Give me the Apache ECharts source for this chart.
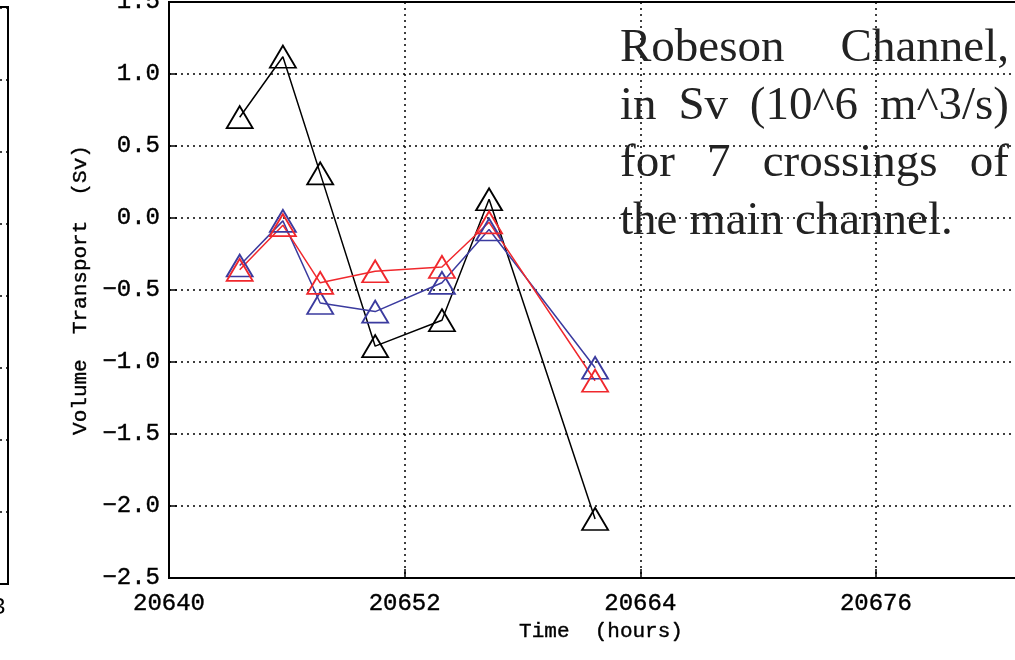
<!DOCTYPE html>
<html>
<head>
<meta charset="utf-8">
<script src="https://cdn.jsdelivr.net/npm/echarts@6/dist/echarts.min.js"></script>
<style>
html, body { margin: 0; padding: 0; background: #fff; }
#main { width: 1015px; height: 660px; }
</style>
</head>
<body>
<div id="main"></div>
<script>
// crossing times (hours) and transport per section (Sv)
var hours = [20643.6, 20645.8, 20647.7, 20650.5, 20653.9, 20656.3, 20661.7];
var totalSv = [0.70, 1.12, 0.31, -0.89, -0.71, 0.13, -2.09];
var blueSv = [-0.33, -0.02, -0.59, -0.65, -0.45, -0.08, -1.04];
var redSv = [-0.36, -0.05, -0.45, -0.37, -0.34, -0.03, -1.13];

var noteLines = [
	['Robeson', 'Channel,'],
	['in', 'Sv', '(10^6', 'm^3/s)'],
	['for', '7', 'crossings', 'of'],
	['the', 'main', 'channel.']
];

var axisFont = 'Liberation Mono';
var dotted = { color: '#000', width: 1.5, type: [2, 4] };
var inkText = { fontFamily: axisFont, color: '#000', textBorderColor: '#000', textBorderWidth: 0.4 };

function pairs(xs, ys) {
	return xs.map(function (x, i) { return [x, ys[i]]; });
}

function lineSeries(name, data, color) {
	return {
		name: name,
		type: 'line',
		data: pairs(hours, data),
		symbol: 'triangle',
		symbolSize: [26, 22],
		lineStyle: { color: color, width: 1.5 },
		itemStyle: { color: 'rgba(0,0,0,0)', borderColor: color, borderWidth: 1.8 },
		emphasis: { disabled: true }
	};
}

// justified block of text, like the figure caption
function noteGraphics() {
	var font = '47px "Liberation Serif"';
	var ctx = document.createElement('canvas').getContext('2d');
	ctx.font = font;
	var left = 620, right = 1009, base0 = 65, step = 57.5;
	var out = [];
	noteLines.forEach(function (words, li) {
		var widths = words.map(function (w) { return ctx.measureText(w).width; });
		var total = widths.reduce(function (a, b) { return a + b; }, 0);
		var gap = li < noteLines.length - 1 ? (right - left - total) / (words.length - 1) : ctx.measureText(' ').width;
		var x = left;
		words.forEach(function (w, wi) {
			out.push({
				type: 'text',
				x: x,
				y: base0 + step * li - 16,
				z: 1,
				style: { text: w, font: font, fill: '#222', verticalAlign: 'middle', align: 'left' }
			});
			x += widths[wi] + gap;
		});
	});
	out.push({
		type: 'text', x: 6, y: 608,
		style: { text: '3', font: '24px ' + axisFont, fill: '#000', align: 'right', verticalAlign: 'middle' }
	});
	return out;
}

var chart = echarts.init(document.getElementById('main'));
chart.setOption({
	animation: false,
	backgroundColor: '#fff',
	grid: [
		{ left: 169, top: 2, width: 864, height: 576, show: true, borderColor: '#000', borderWidth: 2, outerBoundsMode: 'none', containLabel: false },
		{ left: -504, top: 7, width: 512, height: 577, show: true, borderColor: '#000', borderWidth: 2, outerBoundsMode: 'none', containLabel: false }
	],
	xAxis: [
		{
			type: 'value', gridIndex: 0,
			min: 20640, max: 20684, interval: 12,
			name: 'Time  (hours)', nameLocation: 'middle', nameGap: 42,
			nameTextStyle: Object.assign({ fontSize: 21 }, inkText),
			axisLine: { onZero: false, lineStyle: { color: '#000', width: 2 } },
			axisTick: { inside: true, length: 9, lineStyle: { color: '#000', width: 1.5 } },
			axisLabel: Object.assign({
				margin: 14, fontSize: 24, showMaxLabel: false,
				formatter: function (v) { return v % 12 === 0 ? String(v) : ''; }
			}, inkText),
			splitLine: { show: true, lineStyle: dotted }
		},
		{ type: 'value', gridIndex: 1, min: 0, max: 1, show: false }
	],
	yAxis: [
		{
			type: 'value', gridIndex: 0,
			min: -2.5, max: 1.5, interval: 0.5,
			name: 'Volume  Transport  (Sv)', nameLocation: 'middle', nameGap: 76,
			nameTextStyle: Object.assign({ fontSize: 21 }, inkText),
			axisLine: { onZero: false, lineStyle: { color: '#000', width: 2 } },
			axisTick: { inside: true, length: 8, lineStyle: { color: '#000', width: 1.5 } },
			axisLabel: Object.assign({
				margin: 9, fontSize: 24,
				formatter: function (v) { return v.toFixed(1).replace('-', '\u2212'); }
			}, inkText),
			splitLine: { show: true, lineStyle: dotted }
		},
		{
			type: 'value', gridIndex: 1,
			min: 0, max: 577 / 72, interval: 1,
			axisLine: { show: false }, axisTick: { show: false }, axisLabel: { show: false },
			splitLine: { show: true, lineStyle: dotted }
		}
	],
	series: [
		lineSeries('total', totalSv, '#000'),
		lineSeries('blue', blueSv, '#3b3b9f'),
		lineSeries('red', redSv, '#f0282d')
	],
	graphic: noteGraphics()
});
</script>
</body>
</html>
